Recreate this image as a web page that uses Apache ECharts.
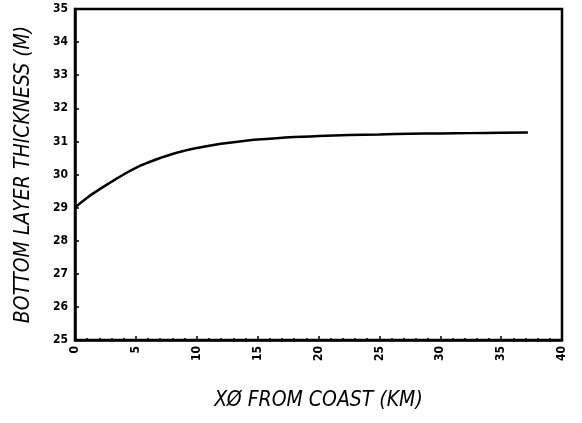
<!DOCTYPE html>
<html>

<head>
    <meta charset="utf-8">
    <title></title>
    <style>
        html, body { margin: 0; padding: 0; background: #fff; }
        #chart { width: 582px; height: 423px; }
    </style>
</head>

<body>
    <div id="chart"></div>
    <script src="https://cdn.jsdelivr.net/npm/echarts@6/dist/echarts.min.js"></script>
    <script>
    // distance from coast (km) and bottom layer thickness (m)
    var xKm = [0, 1, 2, 3, 4, 5, 6, 7, 8, 9, 10, 12, 14, 16, 18, 20, 22.5, 25, 27.5, 30, 32.5, 35, 37.2];
    var thickness = [29.0, 29.3, 29.55, 29.78, 30.0, 30.2, 30.36, 30.5, 30.62, 30.72, 30.8, 30.93, 31.02, 31.08, 31.13, 31.16, 31.19, 31.21, 31.23, 31.24, 31.25, 31.26, 31.27];
    var xTicks = [0, 40, 5];   // min, max, step
    var yTicks = [25, 35, 1];

    var points = xKm.map(function(x, i) { return [x, thickness[i]]; });

    var labelFont = "'DejaVu Sans Condensed', 'DejaVu Sans', sans-serif";
    var nameFont = "'Liberation Sans Narrow', 'DejaVu Sans Condensed', sans-serif";

    var chart = echarts.init(document.getElementById('chart'));
    chart.setOption({
        animation: false,
        backgroundColor: '#fff',
        grid: {
            left: 75, right: 20, top: 9, bottom: 83,
            show: true, borderColor: '#000', borderWidth: 2.5
        },
        xAxis: {
            type: 'value',
            min: xTicks[0], max: xTicks[1], interval: xTicks[2],
            name: 'XØ FROM COAST (KM)',
            nameLocation: 'middle',
            nameGap: 50,
            nameTextStyle: { fontFamily: nameFont, fontStyle: 'italic', fontSize: 21, color: '#000' },
            axisLine: { lineStyle: { color: '#000', width: 2.5 } },
            axisTick: { inside: true, length: 4, lineStyle: { color: '#000', width: 1.5 } },
            minorTick: { show: true, splitNumber: 5, length: 2, lineStyle: { color: '#000', width: 1.5 } },
            axisLabel: { rotate: 90, margin: 6, color: '#000', fontFamily: labelFont, fontWeight: 'bold', fontSize: 12 },
            splitLine: { show: false }
        },
        yAxis: {
            type: 'value',
            min: yTicks[0], max: yTicks[1], interval: yTicks[2],
            name: 'BOTTOM LAYER THICKNESS (M)',
            nameLocation: 'middle',
            nameGap: 41,
            nameTextStyle: { fontFamily: nameFont, fontStyle: 'italic', fontSize: 21, color: '#000' },
            axisLine: { lineStyle: { color: '#000', width: 2.5 } },
            axisTick: { inside: true, length: 4, lineStyle: { color: '#000', width: 1.5 } },
            axisLabel: { margin: 7, color: '#000', fontFamily: labelFont, fontWeight: 'bold', fontSize: 12 },
            splitLine: { show: false }
        },
        series: [{
            type: 'line',
            data: points,
            smooth: true,
            showSymbol: false,
            lineStyle: { color: '#000', width: 2.5 }
        }]
    });
    addEventListener('resize', chart.resize);
    </script>
</body>

</html>
